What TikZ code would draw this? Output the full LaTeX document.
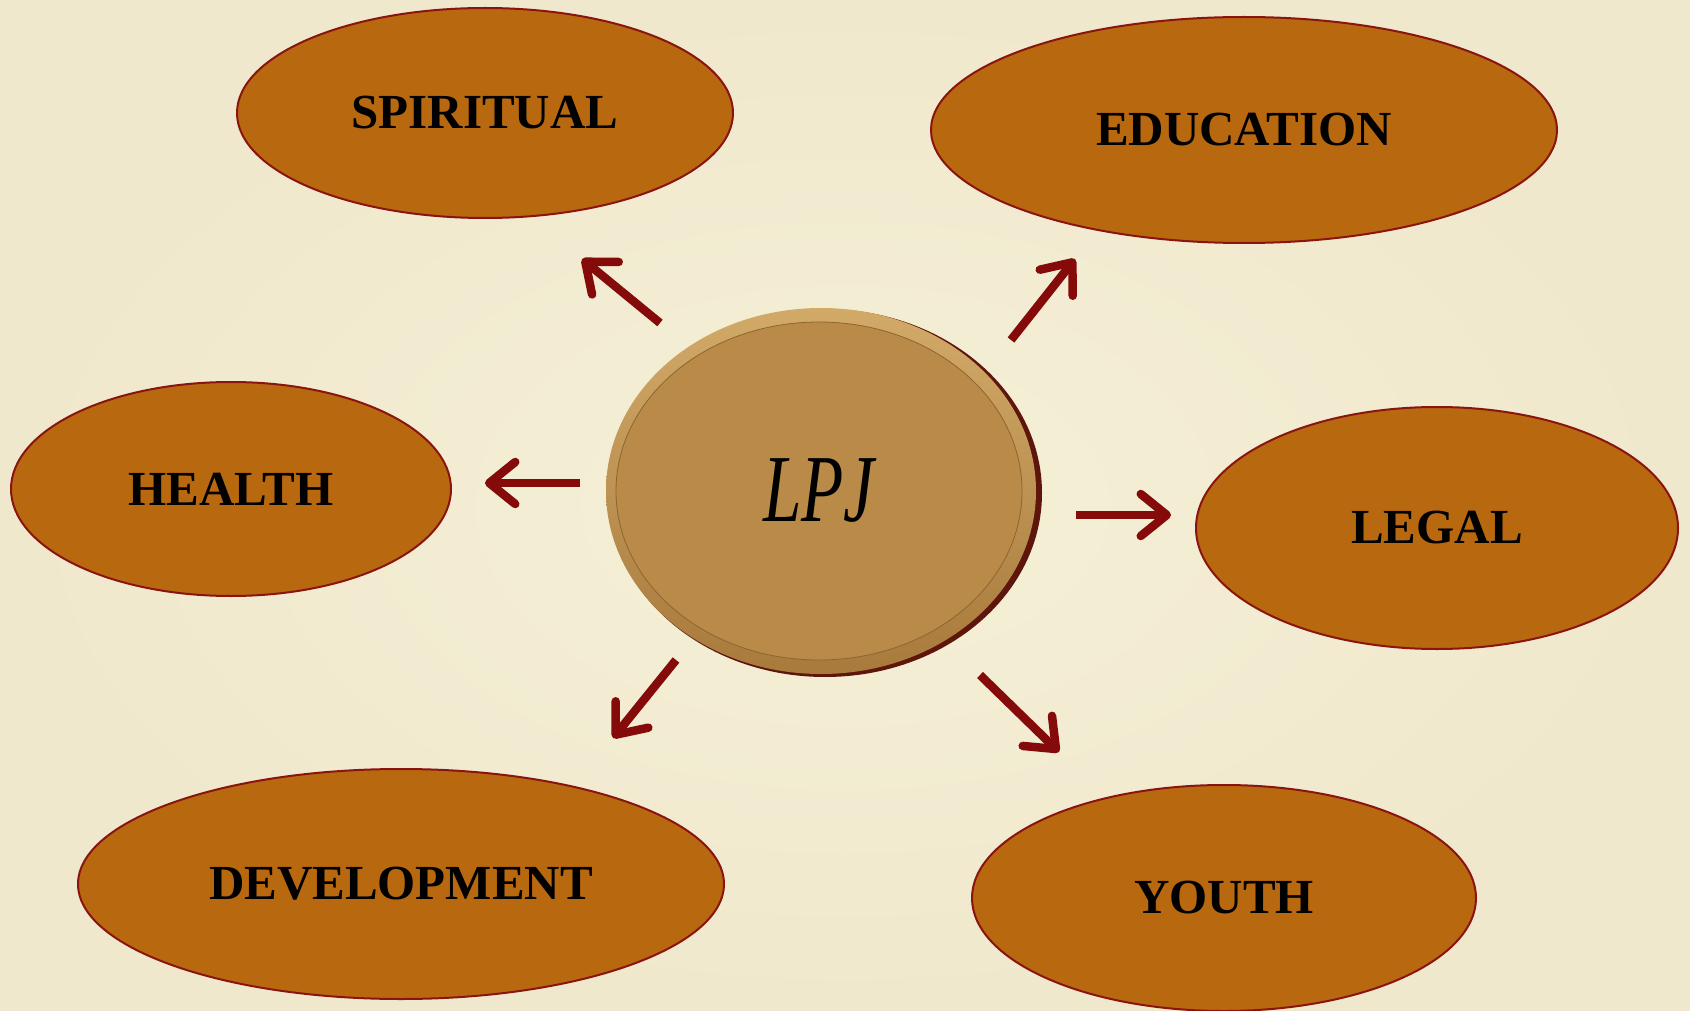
\documentclass[tikz,border=0pt]{standalone}
\usepackage{fontspec}
\setmainfont{Liberation Serif}
\usetikzlibrary{shapes.geometric,arrows.meta}
\definecolor{bgin}{HTML}{F5F0D8}
\definecolor{bgout}{HTML}{F0E8CC}
\definecolor{oval}{HTML}{B8680F}
\definecolor{ovalline}{HTML}{8A1410}
\definecolor{arr}{HTML}{850A0A}
\definecolor{disc}{HTML}{B98A48}
\definecolor{rimlight}{HTML}{D2AA68}
\definecolor{rimdark}{HTML}{A87A3C}
\definecolor{discshadow}{HTML}{5E160C}
\definecolor{ringline}{HTML}{8C6630}
\tikzset{
  topic/.style={ellipse, draw=ovalline, line width=2pt, fill=oval, inner sep=0pt,
    font=\bfseries\fontsize{49}{54}\selectfont, text=black},
  linkarrow/.style={draw=arr, line width=8.5pt,
    -{Straight Barb[length=26pt, width=42pt, line width=8.5pt, line cap=round, line join=round]}},
}
\begin{document}
\begin{tikzpicture}[x=1pt,y=-1pt]
\shade[inner color=bgin, outer color=bgout] (0,0) rectangle (1690,1011);
\useasboundingbox (0,0) rectangle (1690,1011);

% outer ideas
\node[topic, minimum width=496pt, minimum height=210pt] (spiritual) at (485,113) {SPIRITUAL};
\node[topic, minimum width=626pt, minimum height=226pt] (education) at (1244,130) {EDUCATION};
\node[topic, minimum width=440pt, minimum height=214pt] (health) at (231,489) {HEALTH};
\node[topic, minimum width=482pt, minimum height=242pt] (legal) at (1437,528) {LEGAL};
\node[topic, minimum width=646pt, minimum height=230pt] (development) at (401,884) {DEVELOPMENT};
\node[topic, minimum width=504pt, minimum height=226pt] (youth) at (1224,898) {YOUTH};

% central disc
\fill[discshadow] (825,493) ellipse [x radius=217, y radius=184];
\shade[top color=rimlight, bottom color=rimdark] (821,491) ellipse [x radius=215, y radius=183];
\node[ellipse, fill=disc, draw=ringline, line width=0.8pt, inner sep=0pt,
      minimum width=406pt, minimum height=338pt] (lpj) at (819,491)
      {\fontsize{96}{100}\selectfont\itshape\scalebox{0.72}[1]{LPJ}};

% arrow end points
\coordinate (sp0) at (660,323); \coordinate (sp1) at (582,259);
\coordinate (ed0) at (1011,340); \coordinate (ed1) at (1075,259);
\coordinate (he0) at (580,483);  \coordinate (he1) at (485,483);
\coordinate (le0) at (1076,515); \coordinate (le1) at (1171,515);
\coordinate (de0) at (676,660);  \coordinate (de1) at (613,738);
\coordinate (yo0) at (980,675);  \coordinate (yo1) at (1059,752);

\draw[linkarrow] (sp0) -- (sp1);
\draw[linkarrow] (ed0) -- (ed1);
\draw[linkarrow] (he0) -- (he1);
\draw[linkarrow] (le0) -- (le1);
\draw[linkarrow] (de0) -- (de1);
\draw[linkarrow] (yo0) -- (yo1);
\end{tikzpicture}
\end{document}
